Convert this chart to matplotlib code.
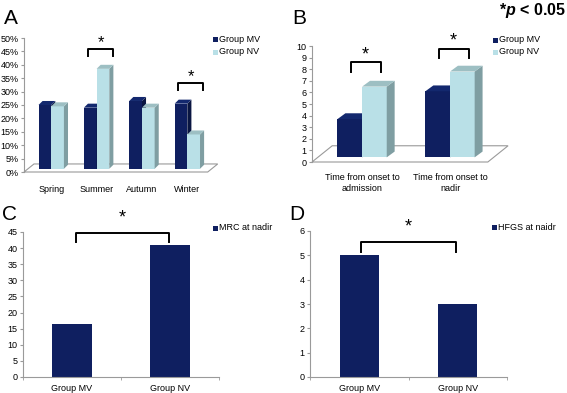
import matplotlib
matplotlib.use("Agg")
import matplotlib.pyplot as plt
from matplotlib.patches import Polygon, Rectangle
import numpy as np

plt.rcParams['font.family'] = ['Liberation Sans', 'DejaVu Sans']
plt.rcParams['mathtext.fontset'] = 'custom'
plt.rcParams['mathtext.it'] = 'Liberation Sans:italic:bold'
plt.rcParams['mathtext.rm'] = 'Liberation Sans:bold'

# data
seasons = ["Spring", "Summer", "Autumn", "Winter"]
season_mv = [25.0, 24.0, 26.5, 25.5]
season_nv = [24.5, 38.5, 24.0, 14.0]

times = ["Time from onset to\nadmission", "Time from onset to\nnadir"]
time_mv = [3.7, 6.1]
time_nv = [6.5, 7.8]

groups = ["Group MV", "Group NV"]
mrc = [16.5, 41.0]
hfgs = [5.0, 3.0]

NAVY = "#0f1f60"
NAVY_SIDE = "#0a1642"
NAVY_TOP = "#13286e"
LIGHT = "#b9e0e7"
LIGHT_SIDE = "#7f9ea2"
LIGHT_TOP = "#9dbfc3"
GRAY = "#9a9a9a"
FS = 6.5

fig = plt.figure(figsize=(5.67, 3.93), dpi=100)


def bar3d(ax, x, h, w, base, dx, dy, c, cs, ct):
    ax.add_patch(Rectangle((x - w / 2, base), w, h - base, facecolor=c, edgecolor='none', clip_on=False))
    ax.add_patch(Polygon([(x + w / 2, base), (x + w / 2 + dx, base + dy), (x + w / 2 + dx, h + dy), (x + w / 2, h)],
                         closed=True, facecolor=cs, edgecolor='none', clip_on=False))
    ax.add_patch(Polygon([(x - w / 2, h), (x + w / 2, h), (x + w / 2 + dx, h + dy), (x - w / 2 + dx, h + dy)],
                         closed=True, facecolor=ct, edgecolor='none', clip_on=False))


def floor(ax, x0, x1, fdx, fdy):
    ax.add_patch(Polygon([(x0, 0), (x1, 0), (x1 + fdx, fdy), (x0 + fdx, fdy)], closed=True,
                         facecolor='white', edgecolor=GRAY, lw=0.8, clip_on=False))


def style(ax):
    for s in ['top', 'right']:
        ax.spines[s].set_visible(False)
    ax.spines['left'].set_color(GRAY)
    ax.spines['bottom'].set_color(GRAY)
    ax.tick_params(labelsize=FS, length=2, color=GRAY, width=0.8, pad=2)


def bracket(ax, x0, x1, ytop, ylow, ystar, fs=12):
    ax.plot([x0, x0, x1, x1], [ylow, ytop, ytop, ylow], color='black', lw=1.4, clip_on=False)
    ax.text((x0 + x1) / 2, ystar, "*", ha='center', va='center', fontsize=fs, clip_on=False)


def legend_item(x, y, color, label):
    fig.patches.append(Rectangle((x / 567, 1 - (y + 3) / 393), 5 / 567, 5 / 393, facecolor=color,
                                 edgecolor='none', transform=fig.transFigure, figure=fig))
    fig.text((x + 6) / 567, 1 - y / 393, label, fontsize=FS, va='center', ha='left')


# ---- A ----
axA = fig.add_axes([24 / 567, 1 - 172 / 393, 186 / 567, 134 / 393])
style(axA)
axA.spines['bottom'].set_visible(False)
axA.set_xlim(-0.6, 3.5)
axA.set_ylim(0, 50)
axA.set_yticks(np.arange(0, 51, 5))
axA.set_yticklabels(["%d%%" % v for v in range(0, 51, 5)])
axA.set_xticks(range(len(seasons)))
axA.set_xticklabels(seasons)
axA.tick_params(axis='x', length=0, pad=9)
floor(axA, -0.6, 3.45, 0.22, 3.0)
w = 0.28
for i in range(len(seasons)):
    bar3d(axA, i - w / 2, season_mv[i], w, 1.2, 0.09, 1.5, NAVY, NAVY_SIDE, NAVY_TOP)
    bar3d(axA, i + w / 2, season_nv[i], w, 1.2, 0.09, 1.5, LIGHT, LIGHT_SIDE, LIGHT_TOP)
bracket(axA, 0.82, 1.36, 45.9, 43.3, 48.3)
bracket(axA, 2.8, 3.34, 33.2, 30.6, 35.5)
fig.text(4 / 567, 1 - 18 / 393, "A", fontsize=15, va='center')
legend_item(213, 39, NAVY, "Group MV")
legend_item(213, 52, LIGHT, "Group NV")

# ---- B ----
axB = fig.add_axes([312 / 567, 1 - 162 / 393, 182 / 567, 116 / 393])
style(axB)
axB.spines['bottom'].set_visible(False)
axB.set_xlim(-0.57, 1.5)
axB.set_ylim(0, 10)
axB.set_yticks(range(0, 11))
axB.set_xticks(range(len(times)))
axB.set_xticklabels(times, linespacing=1.3)
axB.tick_params(axis='x', length=0, pad=8)
floor(axB, -0.57, 1.43, 0.23, 1.4)
w = 0.28
for i in range(len(times)):
    bar3d(axB, i - w / 2, time_mv[i], w, 0.4, 0.09, 0.5, NAVY, NAVY_SIDE, NAVY_TOP)
    bar3d(axB, i + w / 2, time_nv[i], w, 0.4, 0.09, 0.5, LIGHT, LIGHT_SIDE, LIGHT_TOP)
bracket(axB, -0.13, 0.21, 8.6, 7.8, 9.25, fs=13)
bracket(axB, 0.87, 1.21, 9.75, 8.95, 10.4, fs=13)
fig.text(292 / 567, 1 - 19 / 393, "B", fontsize=15, va='center')
legend_item(493, 40, NAVY, "Group MV")
legend_item(493, 52, LIGHT, "Group NV")
fig.text(566 / 567, 1 - 11 / 393, r"*$\it{p}$ < 0.05", fontsize=11.5, fontweight='bold', ha='right', va='center')

# ---- C ----
axC = fig.add_axes([23 / 567, 1 - 377 / 393, 196 / 567, 145 / 393])
style(axC)
axC.bar(range(len(groups)), mrc, width=0.4, color=NAVY)
axC.set_xlim(-0.5, 1.5)
axC.set_ylim(0, 45)
axC.set_yticks(range(0, 46, 5))
axC.set_xticks(range(len(groups)))
axC.set_xticklabels(groups)
axC.set_xticks([-0.5, 0.5, 1.5], minor=True)
axC.tick_params(axis='x', which='major', length=0, pad=5)
axC.tick_params(axis='x', which='minor', length=2, color=GRAY)
bracket(axC, 0.04, 0.99, 44.8, 41.8, 49.3, fs=13)
fig.text(2 / 567, 1 - 215 / 393, "C", fontsize=15, va='center')
legend_item(213, 228, NAVY, "MRC at nadir")

# ---- D ----
axD = fig.add_axes([310 / 567, 1 - 377 / 393, 197 / 567, 146 / 393])
style(axD)
axD.bar(range(len(groups)), hfgs, width=0.4, color=NAVY)
axD.set_xlim(-0.5, 1.5)
axD.set_ylim(0, 6)
axD.set_yticks(range(0, 7))
axD.set_xticks(range(len(groups)))
axD.set_xticklabels(groups)
axD.set_xticks([-0.5, 0.5, 1.5], minor=True)
axD.tick_params(axis='x', which='major', length=0, pad=5)
axD.tick_params(axis='x', which='minor', length=2, color=GRAY)
bracket(axD, 0.02, 0.98, 5.55, 5.14, 6.15, fs=13)
fig.text(289 / 567, 1 - 215 / 393, "D", fontsize=15, va='center')
legend_item(492, 227, NAVY, "HFGS at naidr")

fig.savefig("out.png", dpi=100)
